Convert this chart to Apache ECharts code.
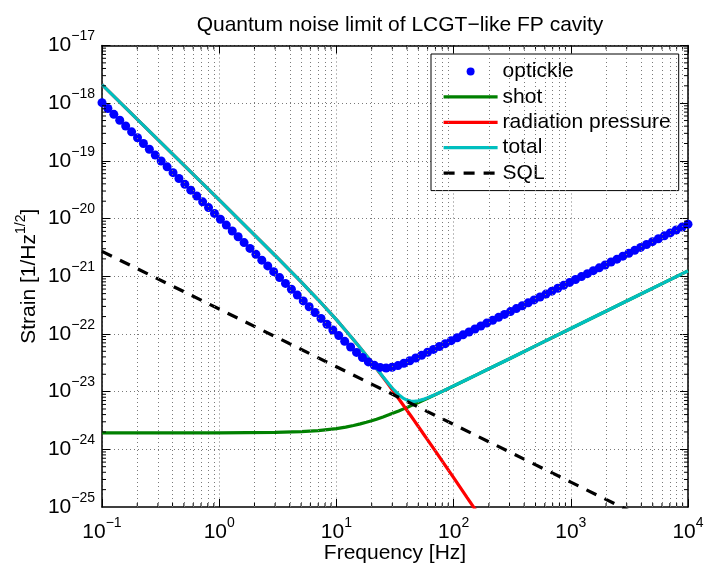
<!DOCTYPE html>
<html>
<head>
<meta charset="utf-8">
<title>Quantum noise limit of LCGT-like FP cavity</title>
<script src="https://cdn.jsdelivr.net/npm/echarts@6/dist/echarts.min.js"></script>
<style>
  html, body { margin: 0; padding: 0; background: #fff; }
  #chart { width: 704px; height: 569px; }
</style>
</head>
<body>
<div id="chart"></div>
<script>
// optickle model, one dot per frequency
var optickleFreq = [
  0.1, 0.1123, 0.1262, 0.1417, 0.1592, 0.1789, 0.2009, 0.2257, 0.2535, 0.2848,
  0.3199, 0.3594, 0.4037, 0.4535, 0.5094, 0.5722, 0.6428, 0.7221, 0.8111, 0.9112,
  1.024, 1.150, 1.292, 1.451, 1.630, 1.831, 2.057, 2.310, 2.595, 2.915,
  3.275, 3.678, 4.132, 4.642, 5.214, 5.857, 6.579, 7.391, 8.302, 9.326,
  10.48, 11.77, 13.22, 14.85, 16.68, 18.74, 21.05, 23.65, 26.56, 29.84,
  33.52, 37.65, 42.29, 47.51, 53.37, 59.95, 67.34, 75.65, 84.98, 95.46,
  107.2, 120.4, 135.3, 152.0, 170.7, 191.8, 215.4, 242.0, 271.8, 305.4,
  343.0, 385.3, 432.9, 486.2, 546.2, 613.6, 689.3, 774.2, 869.7, 977.0,
  1097, 1233, 1385, 1556, 1748, 1963, 2205, 2477, 2782, 3126,
  3511, 3944, 4431, 4977, 5590, 6280, 7055, 7924, 8902, 10000
];
var optickleStrain = [
  1.02e-18, 8.08e-19, 6.40e-19, 5.07e-19, 4.02e-19, 3.19e-19, 2.52e-19, 2.00e-19, 1.59e-19, 1.26e-19,
  9.96e-20, 7.89e-20, 6.25e-20, 4.95e-20, 3.92e-20, 3.11e-20, 2.46e-20, 1.95e-20, 1.55e-20, 1.23e-20,
  9.72e-21, 7.70e-21, 6.10e-21, 4.83e-21, 3.83e-21, 3.04e-21, 2.40e-21, 1.90e-21, 1.51e-21, 1.20e-21,
  9.49e-22, 7.52e-22, 5.96e-22, 4.72e-22, 3.74e-22, 2.96e-22, 2.35e-22, 1.86e-22, 1.47e-22, 1.17e-22,
  9.35e-23, 7.44e-23, 5.95e-23, 4.79e-23, 3.91e-23, 3.27e-23, 2.86e-23, 2.63e-23, 2.57e-23, 2.65e-23,
  2.83e-23, 3.10e-23, 3.43e-23, 3.83e-23, 4.28e-23, 4.81e-23, 5.39e-23, 6.05e-23, 6.79e-23, 7.64e-23,
  8.58e-23, 9.64e-23, 1.08e-22, 1.22e-22, 1.37e-22, 1.54e-22, 1.72e-22, 1.94e-22, 2.18e-22, 2.44e-22,
  2.75e-22, 3.08e-22, 3.46e-22, 3.89e-22, 4.37e-22, 4.91e-22, 5.52e-22, 6.20e-22, 6.96e-22, 7.82e-22,
  8.78e-22, 9.87e-22, 1.11e-21, 1.25e-21, 1.40e-21, 1.57e-21, 1.77e-21, 1.98e-21, 2.23e-21, 2.50e-21,
  2.81e-21, 3.16e-21, 3.55e-21, 3.98e-21, 4.47e-21, 5.02e-21, 5.64e-21, 6.34e-21, 7.12e-21, 8.00e-21
];

// analytic curves, sampled more densely round the knee
var lineFreq = [
  0.1, 0.3, 1, 3, 5, 7, 10, 12, 14, 16, 18, 20, 22, 25, 28, 31, 34, 37, 40, 43,
  46, 50, 55, 60, 70, 80, 100, 130, 160, 200, 300, 500, 1000, 3000, 10000
];
var shotStrain = [
  1.92e-24, 1.92e-24, 1.92e-24, 1.96e-24, 2.02e-24, 2.11e-24, 2.28e-24, 2.43e-24, 2.59e-24, 2.76e-24,
  2.94e-24, 3.13e-24, 3.33e-24, 3.64e-24, 3.96e-24, 4.29e-24, 4.63e-24, 4.97e-24, 5.31e-24, 5.66e-24,
  6.01e-24, 6.48e-24, 7.08e-24, 7.68e-24, 8.88e-24, 1.01e-23, 1.25e-23, 1.62e-23, 1.99e-23, 2.49e-23,
  3.72e-23, 6.20e-23, 1.24e-22, 3.72e-22, 1.24e-21
];
// radiation pressure leaves the plot at the bottom near 150 Hz
var radPressureStrain = [
  2.10e-18, 2.33e-19, 2.10e-20, 2.29e-21, 7.99e-22, 3.91e-22, 1.77e-22, 1.15e-22, 7.95e-23, 5.71e-23,
  4.23e-23, 3.22e-23, 2.50e-23, 1.77e-23, 1.30e-23, 9.77e-24, 7.53e-24, 5.93e-24, 4.74e-24, 3.85e-24,
  3.17e-24, 2.49e-24, 1.88e-24, 1.46e-24, 9.27e-25, 6.24e-25, 3.22e-25, 1.47e-25, 7.91e-26
];
var totalStrain = [
  2.10e-18, 2.33e-19, 2.10e-20, 2.29e-21, 7.99e-22, 3.91e-22, 1.77e-22, 1.15e-22, 7.95e-23, 5.72e-23,
  4.24e-23, 3.23e-23, 2.52e-23, 1.81e-23, 1.36e-23, 1.07e-23, 8.84e-24, 7.74e-24, 7.12e-24, 6.85e-24,
  6.79e-24, 6.94e-24, 7.33e-24, 7.82e-24, 8.93e-24, 1.01e-23, 1.26e-23, 1.62e-23, 1.99e-23, 2.49e-23,
  3.72e-23, 6.20e-23, 1.24e-22, 3.72e-22, 1.24e-21
];
var sqlFreq = [0.1, 1, 10, 100, 1000, 10000];
var sqlStrain = [2.7e-21, 2.7e-22, 2.7e-23, 2.7e-24, 2.7e-25, 2.7e-26];

// tick labels
var xTicks = [1e-1, 1e0, 1e1, 1e2, 1e3, 1e4];
var yTicks = [1e-25, 1e-24, 1e-23, 1e-22, 1e-21, 1e-20, 1e-19, 1e-18, 1e-17];

var xDecades = [-1, 0, 1, 2, 3];           // minor grid decades on x
var yDecades = [-25, -24, -23, -22, -21, -20, -19, -18];

var FONT = '"Liberation Sans", Arial, Helvetica, sans-serif';

function pairs(xs, ys) {
  var out = [];
  for (var i = 0; i < ys.length; i++) out.push([xs[i], ys[i]]);
  return out;
}

// 2..9 x 10^e positions for the dotted minor grid
function minorValues(decades) {
  var out = [];
  decades.forEach(function (e) {
    for (var k = 2; k <= 9; k++) out.push(k * Math.pow(10, e));
  });
  return out;
}
var xMinor = minorValues(xDecades);
var yMinor = minorValues(yDecades);

function powLabel(v) {
  var e = Math.round(Math.log10(v));
  return '{b|10}{s|' + String(e).replace('-', '\u2212') + '}';
}

var tickRich = {
  b: { fontSize: 21, lineHeight: 32, fontFamily: FONT, color: '#000' },
  s: { fontSize: 14, lineHeight: 14, verticalAlign: 'top', fontFamily: FONT, color: '#000' }
};
var gridStyle = { color: '#7a7a7a', width: 1, type: [1, 3] };

var minorLines = [];
xMinor.forEach(function (v) { minorLines.push({ xAxis: v }); });
yMinor.forEach(function (v) { minorLines.push({ yAxis: v }); });

var noSymbol = { opacity: 0 };
var LW = 3.2;
var axisLineStyle = { onZero: false, lineStyle: { color: '#000', width: 1.5 } };

var chart = echarts.init(document.getElementById('chart'));

chart.setOption({
  animation: false,
  backgroundColor: '#fff',
  textStyle: { fontFamily: FONT },
  title: {
    text: 'Quantum noise limit of LCGT\u2212like FP cavity',
    left: 395,
    top: 10,
    textAlign: 'center',
    textStyle: { fontSize: 21, fontWeight: 'normal', color: '#000', fontFamily: FONT }
  },
  grid: {
    left: 102, right: 16, top: 45.5, bottom: 62,
    containLabel: false,
    outerBoundsMode: 'none'
  },
  legend: {
    orient: 'vertical',
    left: 431,
    top: 54,
    padding: [7, 8, 7, 11],
    itemGap: 4.4,
    itemWidth: 54,
    itemHeight: 8,
    backgroundColor: '#fff',
    borderColor: '#000',
    borderWidth: 1,
    lineStyle: { width: LW },
    textStyle: { fontSize: 21, color: '#000', fontFamily: FONT },
    data: [
      { name: 'optickle' },
      { name: 'shot', itemStyle: noSymbol },
      { name: 'radiation pressure', itemStyle: noSymbol },
      { name: 'total', itemStyle: noSymbol },
      { name: 'SQL', itemStyle: noSymbol }
    ]
  },
  xAxis: [
    {
      type: 'log', logBase: 10, min: 0.1, max: 10000, splitNumber: 5,
      position: 'bottom',
      name: 'Frequency [Hz]', nameLocation: 'middle', nameGap: 36,
      nameMoveOverlap: false,
      nameTextStyle: { fontSize: 21, color: '#000', fontFamily: FONT },
      axisLine: axisLineStyle,
      axisTick: { inside: true, length: 8, lineStyle: { color: '#000', width: 1 } },
      axisLabel: { formatter: powLabel, margin: 9, rich: tickRich, customValues: xTicks, hideOverlap: false },
      splitLine: { show: true, lineStyle: gridStyle }
    },
    {
      type: 'log', logBase: 10, min: 0.1, max: 10000, splitNumber: 5,
      position: 'top',
      axisLine: axisLineStyle,
      axisTick: { inside: true, length: 8, lineStyle: { color: '#000', width: 1 } },
      axisLabel: { show: false },
      splitLine: { show: false }
    }
  ],
  yAxis: [
    {
      type: 'log', logBase: 10, min: 1e-25, max: 1e-17, splitNumber: 8,
      position: 'left',
      name: '{b|Strain [1/Hz}{s|1/2}{b|]}', nameLocation: 'middle', nameGap: 58, nameRotate: 90,
      nameMoveOverlap: false,
      nameTextStyle: {
        fontSize: 21, color: '#000', fontFamily: FONT,
        rich: {
          b: { fontSize: 21, lineHeight: 30, fontFamily: FONT, color: '#000' },
          s: { fontSize: 14, lineHeight: 14, verticalAlign: 'top', fontFamily: FONT, color: '#000' }
        }
      },
      axisLine: axisLineStyle,
      axisTick: { inside: true, length: 8, lineStyle: { color: '#000', width: 1 } },
      axisLabel: { formatter: powLabel, margin: 7, rich: tickRich, customValues: yTicks, hideOverlap: false },
      splitLine: { show: true, lineStyle: gridStyle }
    },
    {
      type: 'log', logBase: 10, min: 1e-25, max: 1e-17, splitNumber: 8,
      position: 'right',
      axisLine: axisLineStyle,
      axisTick: { inside: true, length: 8, lineStyle: { color: '#000', width: 1 } },
      axisLabel: { show: false },
      splitLine: { show: false }
    }
  ],
  series: [
    {
      name: 'minor grid',
      type: 'line',
      data: [],
      silent: true,
      z: 1,
      markLine: {
        silent: true,
        animation: false,
        symbol: ['none', 'none'],
        label: { show: false },
        lineStyle: gridStyle,
        emphasis: { disabled: true },
        data: minorLines
      }
    },
    {
      // minor ticks on all four sides, like the MATLAB box
      name: 'minor x ticks',
      type: 'custom',
      silent: true,
      z: 4,
      data: xMinor.map(function (v) { return [v, 1e-25]; }),
      renderItem: function (params, api) {
        var b = api.coord([api.value(0), 1e-25]);
        var t = api.coord([api.value(0), 1e-17]);
        var st = { stroke: '#000', lineWidth: 1 };
        return { type: 'group', children: [
          { type: 'line', shape: { x1: b[0], y1: b[1], x2: b[0], y2: b[1] - 4 }, style: st },
          { type: 'line', shape: { x1: t[0], y1: t[1], x2: t[0], y2: t[1] + 4 }, style: st }
        ] };
      }
    },
    {
      name: 'minor y ticks',
      type: 'custom',
      silent: true,
      z: 4,
      data: yMinor.map(function (v) { return [0.1, v]; }),
      renderItem: function (params, api) {
        var l = api.coord([0.1, api.value(1)]);
        var r = api.coord([10000, api.value(1)]);
        var st = { stroke: '#000', lineWidth: 1 };
        return { type: 'group', children: [
          { type: 'line', shape: { x1: l[0], y1: l[1], x2: l[0] + 4, y2: l[1] }, style: st },
          { type: 'line', shape: { x1: r[0], y1: r[1], x2: r[0] - 4, y2: r[1] }, style: st }
        ] };
      }
    },
    {
      name: 'optickle',
      type: 'scatter',
      z: 2,
      symbol: 'circle',
      symbolSize: 9,
      itemStyle: { color: '#0000ff', opacity: 1 },
      data: pairs(optickleFreq, optickleStrain)
    },
    {
      name: 'shot',
      type: 'line',
      z: 2,
      showSymbol: false,
      symbol: 'none',
      lineStyle: { color: '#008000', width: LW },
      itemStyle: { color: '#008000' },
      data: pairs(lineFreq, shotStrain)
    },
    {
      name: 'radiation pressure',
      type: 'line',
      z: 2,
      showSymbol: false,
      symbol: 'none',
      lineStyle: { color: '#ff0000', width: LW },
      itemStyle: { color: '#ff0000' },
      data: pairs(lineFreq, radPressureStrain)
    },
    {
      name: 'total',
      type: 'line',
      z: 2,
      showSymbol: false,
      symbol: 'none',
      lineStyle: { color: '#00bfbf', width: LW },
      itemStyle: { color: '#00bfbf' },
      data: pairs(lineFreq, totalStrain)
    },
    {
      name: 'SQL',
      type: 'line',
      z: 2,
      showSymbol: false,
      symbol: 'none',
      lineStyle: { color: '#000', width: LW, type: [11, 9] },
      itemStyle: { color: '#000' },
      data: pairs(sqlFreq, sqlStrain)
    }
  ]
});
</script>
</body>
</html>
